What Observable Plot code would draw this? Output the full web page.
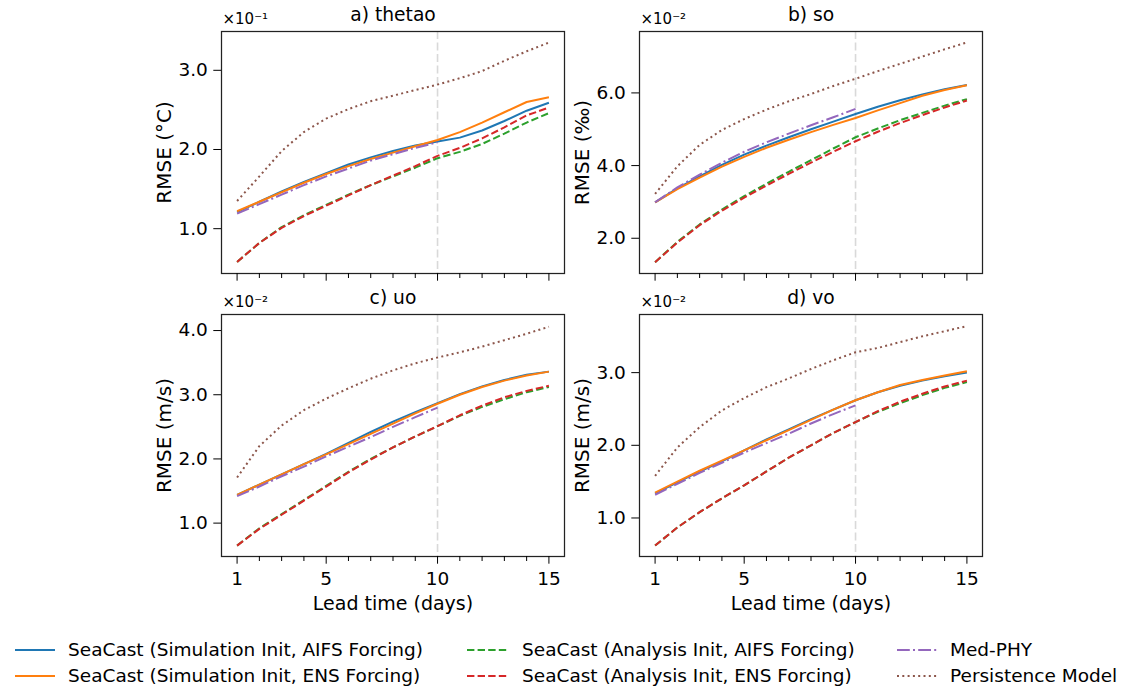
<!DOCTYPE html>
<html><head><meta charset="utf-8">
<script src="https://cdn.jsdelivr.net/npm/d3@7"></script>
<script src="https://cdn.jsdelivr.net/npm/@observablehq/plot@0.6"></script>
<style>
body{margin:0;background:#fff;font-family:"DejaVu Sans",sans-serif;}
#root{position:relative;width:1123px;height:688px;overflow:hidden;background:#fff;}
.panel{position:absolute;}
.legtext{position:absolute;font-size:18.5px;line-height:22px;height:22px;white-space:nowrap;color:#000;}
.legline{position:absolute;}
</style></head><body><div id="root"></div>
<script>
// ---- data ----
const days = [1,2,3,4,5,6,7,8,9,10,11,12,13,14,15];
const majorDays = [1,5,10,15];
const minorDays = [2,3,4,6,7,8,9,11,12,13,14];

const seriesLabels = ["SeaCast (Simulation Init, AIFS Forcing)","SeaCast (Simulation Init, ENS Forcing)","SeaCast (Analysis Init, AIFS Forcing)","SeaCast (Analysis Init, ENS Forcing)","Med-PHY","Persistence Model"];
const seriesColors = ["#1f77b4","#ff7f0e","#2ca02c","#d62728","#9467bd","#8c564b"];
const seriesDashes = [null,null,"7.4,3.2","7.4,3.2","12.8,3.2,2,3.2","2,3.3"];

const panelTitles = ["a) thetao","b) so","c) uo","d) vo"];
const panelYLabels = ["RMSE (°C)","RMSE (‰)","RMSE (m/s)","RMSE (m/s)"];
const panelOffsets = ["×10⁻¹","×10⁻²","×10⁻²","×10⁻²"];
const panelYTicks = [[1,2,3],[2,4,6],[1,2,3,4],[1,2,3]];
const panelYDomains = [[0.434,3.49],[1.03,7.69],[0.48,4.25],[0.47,3.80]];
const xLabel = "Lead time (days)";

// a) thetao (x10^-1)
const thetaoSimAifs = [1.21,1.34,1.47,1.59,1.70,1.81,1.90,1.98,2.05,2.10,2.15,2.24,2.36,2.49,2.59];
const thetaoSimEns  = [1.22,1.34,1.46,1.58,1.69,1.79,1.88,1.96,2.04,2.12,2.22,2.34,2.47,2.60,2.66];
const thetaoAnaAifs = [0.58,0.82,1.02,1.17,1.30,1.43,1.55,1.66,1.77,1.89,1.97,2.07,2.20,2.34,2.46];
const thetaoAnaEns  = [0.58,0.82,1.01,1.16,1.29,1.42,1.55,1.67,1.79,1.92,2.02,2.14,2.28,2.43,2.53];
const thetaoMed     = [1.19,1.31,1.43,1.55,1.66,1.76,1.86,1.94,2.02,2.09];
const thetaoPers    = [1.35,1.66,1.98,2.22,2.39,2.51,2.61,2.68,2.75,2.82,2.90,2.99,3.12,3.24,3.35];

// b) so (x10^-2)
const soSimAifs = [2.99,3.37,3.70,4.02,4.30,4.55,4.78,5.00,5.21,5.42,5.62,5.80,5.96,6.10,6.22];
const soSimEns  = [2.99,3.35,3.67,3.97,4.24,4.49,4.71,4.92,5.12,5.31,5.52,5.72,5.92,6.08,6.21];
const soAnaAifs = [1.34,1.90,2.38,2.79,3.16,3.50,3.83,4.15,4.47,4.78,5.02,5.25,5.45,5.65,5.83];
const soAnaEns  = [1.34,1.88,2.36,2.76,3.12,3.45,3.77,4.08,4.38,4.67,4.93,5.17,5.39,5.60,5.79];
const soMed     = [2.99,3.40,3.75,4.08,4.38,4.64,4.88,5.11,5.33,5.56];
const soPers    = [3.22,3.98,4.57,4.98,5.28,5.54,5.77,5.97,6.19,6.39,6.60,6.80,7.00,7.20,7.39];

// c) uo (x10^-2)
const uoSimAifs = [1.44,1.60,1.76,1.92,2.08,2.25,2.42,2.58,2.73,2.87,3.01,3.13,3.23,3.31,3.36];
const uoSimEns  = [1.44,1.60,1.76,1.92,2.07,2.23,2.39,2.55,2.71,2.86,3.00,3.12,3.22,3.30,3.36];
const uoAnaAifs = [0.65,0.92,1.14,1.36,1.58,1.80,2.00,2.18,2.35,2.51,2.67,2.81,2.93,3.04,3.12];
const uoAnaEns  = [0.65,0.91,1.13,1.35,1.57,1.79,1.99,2.18,2.35,2.51,2.68,2.83,2.96,3.06,3.14];
const uoMed     = [1.42,1.57,1.73,1.88,2.04,2.19,2.34,2.50,2.65,2.80];
const uoPers    = [1.71,2.20,2.52,2.76,2.94,3.10,3.25,3.38,3.49,3.58,3.66,3.75,3.85,3.95,4.06];

// d) vo (x10^-2)
const voSimAifs = [1.34,1.49,1.64,1.78,1.93,2.08,2.22,2.36,2.49,2.62,2.73,2.82,2.89,2.95,3.00];
const voSimEns  = [1.35,1.50,1.65,1.79,1.93,2.07,2.21,2.35,2.49,2.62,2.73,2.83,2.90,2.96,3.02];
const voAnaAifs = [0.62,0.87,1.08,1.27,1.45,1.64,1.83,2.00,2.17,2.32,2.46,2.58,2.69,2.79,2.87];
const voAnaEns  = [0.62,0.87,1.08,1.27,1.45,1.64,1.83,2.00,2.17,2.32,2.47,2.60,2.71,2.81,2.89];
const voMed     = [1.32,1.47,1.62,1.76,1.90,2.03,2.16,2.30,2.43,2.55];
const voPers    = [1.58,1.97,2.25,2.48,2.65,2.80,2.92,3.05,3.17,3.28,3.34,3.42,3.50,3.57,3.64];

const panelValues = [
  [thetaoSimAifs,thetaoSimEns,thetaoAnaAifs,thetaoAnaEns,thetaoMed,thetaoPers],
  [soSimAifs,soSimEns,soAnaAifs,soAnaEns,soMed,soPers],
  [uoSimAifs,uoSimEns,uoAnaAifs,uoAnaEns,uoMed,uoPers],
  [voSimAifs,voSimEns,voAnaAifs,voAnaEns,voMed,voPers]
];

// ---- drawing ----
const root = document.getElementById("root");
const FS = 18.5;

function makePanel(i) {
  const bottom = i >= 2;
  const W = 460, H = bottom ? 340 : 300;
  const marks = [
    Plot.ruleX([10], {stroke:"#d9d9d9", strokeWidth:1.6, strokeDasharray:"8,3.5"})
  ];
  panelValues[i].forEach((vals, s) => {
    const rows = vals.map((v, k) => ({day: days[k], v}));
    marks.push(Plot.line(rows, {x:"day", y:"v", stroke:seriesColors[s], strokeWidth:2,
      strokeDasharray: seriesDashes[s] || undefined, strokeLinecap:"butt"}));
  });
  marks.push(Plot.frame({stroke:"#222", strokeWidth:1.25}));
  marks.push(Plot.axisX(majorDays, {tickSize:7.7, tickPadding:8, label:null, fontSize:FS,
    tickFormat: bottom ? (d => String(d)) : (() => "")}));
  marks.push(Plot.axisX(minorDays, {tickSize:5, label:null, tickFormat: () => ""}));
  marks.push(Plot.axisY(panelYTicks[i], {tickSize:7.7, tickPadding:6, label:null, fontSize:FS,
    tickFormat: d3.format(".1f")}));
  marks.push(Plot.text([panelYLabels[i]], {text:d=>d, frameAnchor:"left", dx:-56.5, rotate:-90,
    textAnchor:"middle", lineAnchor:"middle", fontSize:20}));
  marks.push(Plot.text([panelTitles[i]], {text:d=>d, frameAnchor:"top", dy:-16,
    textAnchor:"middle", lineAnchor:"middle", fontSize:18.7}));
  marks.push(Plot.text([panelOffsets[i]], {text:d=>d, frameAnchor:"top-left", dx:1, dy:-12,
    textAnchor:"start", lineAnchor:"middle", fontSize:15}));
  if (bottom) marks.push(Plot.text([xLabel], {text:d=>d, frameAnchor:"bottom", dy:47,
    textAnchor:"middle", lineAnchor:"middle", fontSize:19}));

  const svg = Plot.plot({
    width: W, height: H,
    marginLeft: 101, marginRight: 16, marginTop: 31, marginBottom: bottom ? 67 : 27,
    x: {domain: [0.3, 15.7]},
    y: {domain: panelYDomains[i]},
    style: {fontFamily:"DejaVu Sans", fontSize: FS + "px", color:"#000", background:"transparent", overflow:"visible"},
    marks
  });
  svg.classList.add("panel");
  svg.style.position = "absolute";
  svg.style.left = (i % 2 === 0 ? 120 : 538) + "px";
  svg.style.top = (bottom ? 283 : 0) + "px";
  root.appendChild(svg);
}
[0,1,2,3].forEach(makePanel);

// ---- legend ----
const legLineX = [15, 467, 897];
const legTextX = [68, 522, 950];
const legRowY = [650, 676];
seriesLabels.forEach((lab, s) => {
  const col = Math.floor(s / 2), row = s % 2;
  const y = legRowY[row];
  const ns = "http://www.w3.org/2000/svg";
  const sv = document.createElementNS(ns, "svg");
  sv.setAttribute("width", 40); sv.setAttribute("height", 10);
  sv.setAttribute("class", "legline");
  sv.style.left = legLineX[col] + "px"; sv.style.top = (y - 5) + "px";
  const ln = document.createElementNS(ns, "line");
  ln.setAttribute("x1", 0); ln.setAttribute("x2", 40);
  ln.setAttribute("y1", 5); ln.setAttribute("y2", 5);
  ln.setAttribute("stroke", seriesColors[s]); ln.setAttribute("stroke-width", 2);
  if (seriesDashes[s]) ln.setAttribute("stroke-dasharray", seriesDashes[s]);
  sv.appendChild(ln);
  root.appendChild(sv);
  const t = document.createElement("div");
  t.className = "legtext";
  t.style.left = legTextX[col] + "px"; t.style.top = (y - 11) + "px";
  t.textContent = lab;
  root.appendChild(t);
});
</script></body></html>
